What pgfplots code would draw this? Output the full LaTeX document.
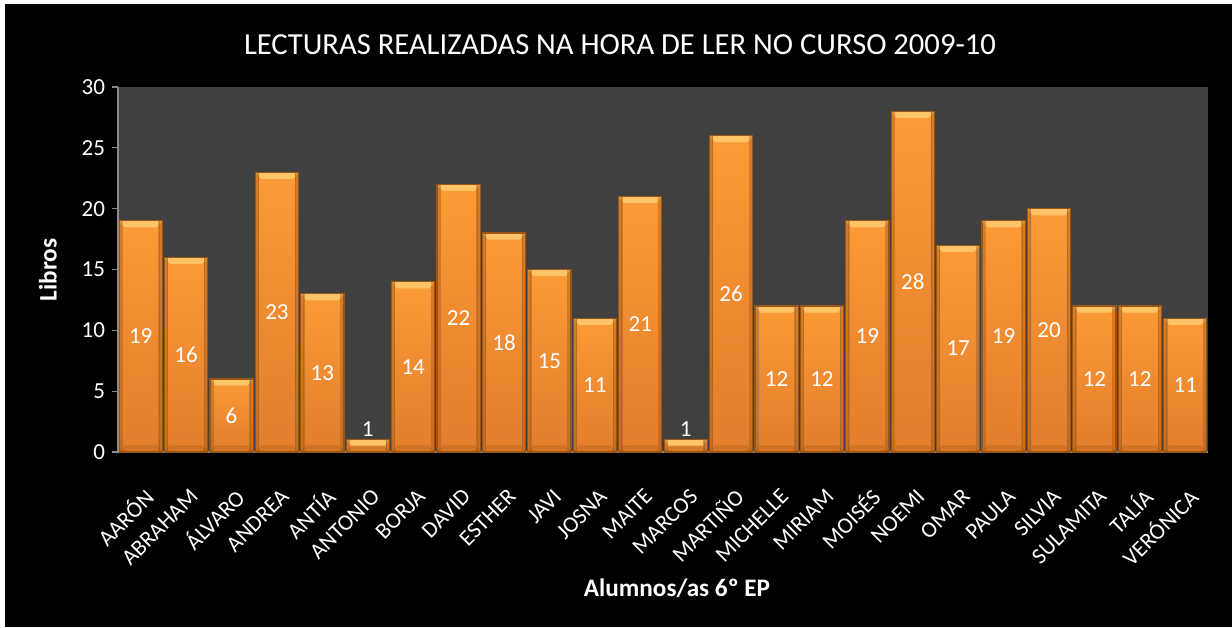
\documentclass[border=0pt]{standalone}
\usepackage{pgfplots}
\pgfplotsset{compat=1.18}
\usepackage{fontspec}
\setmainfont{Carlito}
\definecolor{plotbg}{HTML}{404040}
\definecolor{bartop}{HTML}{FC9A36}
\definecolor{barbot}{HTML}{E27D2C}
\definecolor{barline}{HTML}{9A5515}
\definecolor{bevel}{HTML}{FFC466}
\definecolor{axgray}{HTML}{8C8C8C}
\tikzset{bevelpic/.style={path picture={
      \fill[bevel] (path picture bounding box.north west) -- (path picture bounding box.north east)
        -- ([xshift=-3pt,yshift=-3pt]path picture bounding box.north east)
        -- ([xshift=3pt,yshift=-3pt]path picture bounding box.north west) -- cycle;
      \fill[barline, opacity=0.4] (path picture bounding box.north west) rectangle ([xshift=1.6pt]path picture bounding box.south west);
      \fill[barline, opacity=0.4] (path picture bounding box.north east) rectangle ([xshift=-1.6pt]path picture bounding box.south east);
      \fill[barline, opacity=0.22] (path picture bounding box.south west) -- (path picture bounding box.south east)
        -- ([xshift=-3pt,yshift=3pt]path picture bounding box.south east)
        -- ([xshift=3pt,yshift=3pt]path picture bounding box.south west) -- cycle;
    }}}
\pgfplotsset{mybar/.style={draw=barline, line width=0.6pt, fill=barbot,
  postaction={top color=bartop, bottom color=barbot, draw=barline, line width=0.6pt, bevelpic}}}
\begin{document}
\begin{tikzpicture}
\fill[white] (0,0) rectangle (616pt,313.5pt);
\fill[black] (2.5pt,0) rectangle (616pt,311.5pt);
\useasboundingbox (0,0) rectangle (616pt,313.5pt);
\begin{axis}[
  at={(59pt,87.5pt)}, anchor=south west, scale only axis,
  width=545pt, height=182.5pt,
  xmin=-0.5, xmax=23.5, ymin=0, ymax=30,
  ytick={0,5,...,30},
  xtick={0,...,23},
  xticklabels={AARÓN, ABRAHAM, ÁLVARO, ANDREA, ANTÍA, ANTONIO, BORJA, DAVID, ESTHER, JAVI, JOSNA, MAITE, MARCOS, MARTIÑO, MICHELLE, MIRIAM, MOISÉS, NOEMI, OMAR, PAULA, SILVIA, SULAMITA, TALÍA, VERÓNICA},
  xticklabel style={xshift=6.5pt, yshift=-15pt, rotate=45, anchor=east, font=\fontsize{11.3}{12}\selectfont, text=white},
  yticklabel style={font=\fontsize{11.5}{12}\selectfont, text=white},
  /pgf/number format/assume math mode=true,
  axis lines*=left,
  axis line style={draw=axgray, line width=1pt, -},
  tick align=outside,
  major tick length=3pt,
  ytick style={draw=axgray, line width=0.6pt},
  xtick style={draw=none},
  axis background/.style={fill=plotbg},
  ybar, bar width=0.95, bar shift=0pt,
  nodes near coords,
  visualization depends on={y - max(0.5*y,1.85) \as \dy},
  nodes near coords style={anchor=center, text=white, font=\fontsize{11.5}{12}\selectfont, shift={(axis direction cs:0,-\dy)}},
  clip=false,
]
\addplot[mybar] coordinates {(0,19)};
\addplot[mybar] coordinates {(1,16)};
\addplot[mybar] coordinates {(2,6)};
\addplot[mybar] coordinates {(3,23)};
\addplot[mybar] coordinates {(4,13)};
\addplot[mybar] coordinates {(5,1)};
\addplot[mybar] coordinates {(6,14)};
\addplot[mybar] coordinates {(7,22)};
\addplot[mybar] coordinates {(8,18)};
\addplot[mybar] coordinates {(9,15)};
\addplot[mybar] coordinates {(10,11)};
\addplot[mybar] coordinates {(11,21)};
\addplot[mybar] coordinates {(12,1)};
\addplot[mybar] coordinates {(13,26)};
\addplot[mybar] coordinates {(14,12)};
\addplot[mybar] coordinates {(15,12)};
\addplot[mybar] coordinates {(16,19)};
\addplot[mybar] coordinates {(17,28)};
\addplot[mybar] coordinates {(18,17)};
\addplot[mybar] coordinates {(19,19)};
\addplot[mybar] coordinates {(20,20)};
\addplot[mybar] coordinates {(21,12)};
\addplot[mybar] coordinates {(22,12)};
\addplot[mybar] coordinates {(23,11)};
\end{axis}
\node[white, font=\fontsize{15.3}{17}\selectfont] at (310pt,291pt) {LECTURAS REALIZADAS NA HORA DE LER NO CURSO 2009-10};
\node[white, font=\bfseries\fontsize{12.6}{14}\selectfont, rotate=90] at (24pt,178.5pt) {Libros};
\node[white, font=\bfseries\fontsize{12.6}{14}\selectfont] at (338.5pt,19.5pt) {Alumnos/as 6º EP};
\end{tikzpicture}
\end{document}
